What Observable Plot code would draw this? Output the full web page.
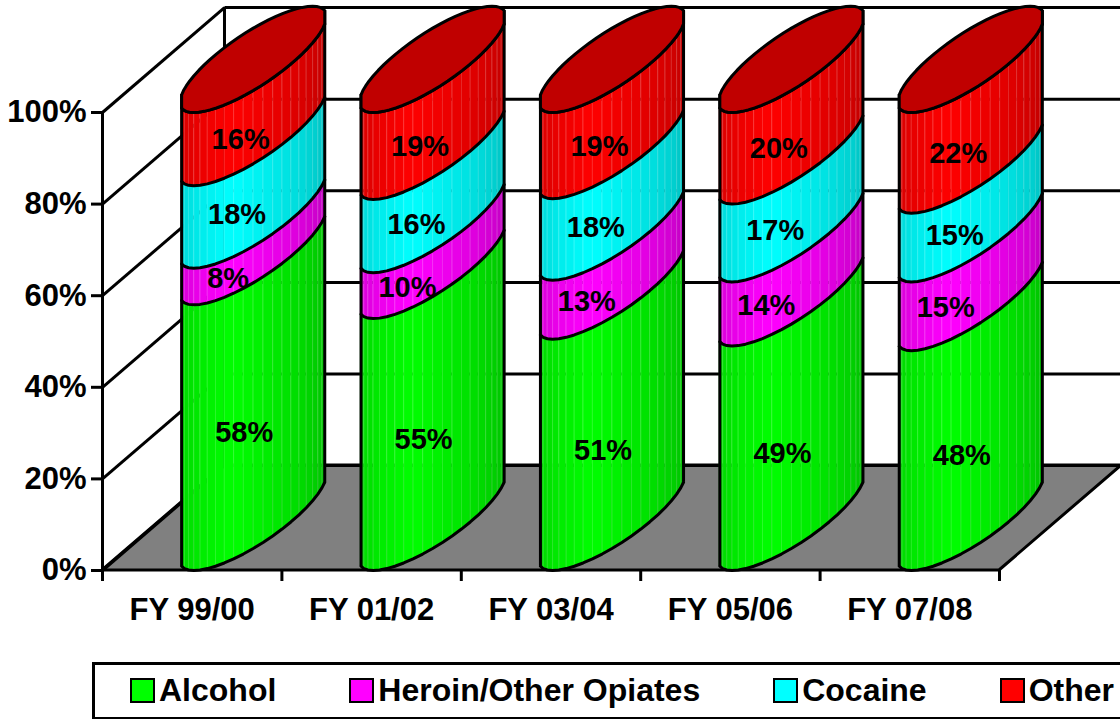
<!DOCTYPE html>
<html>
<head>
<meta charset="utf-8">
<script src="https://cdn.jsdelivr.net/npm/d3@7"></script>
<script src="https://cdn.jsdelivr.net/npm/@observablehq/plot@0.6"></script>
<style>
html,body{margin:0;padding:0;background:#fff;overflow:hidden;width:1120px;height:719px}
svg{display:block}
#legend{position:absolute;left:92px;top:662px;width:1100px;height:52px;border:3px solid #000;display:flex;align-items:center;gap:73px;padding-left:35px;box-sizing:content-box;font:bold 32px "Liberation Sans",Arial,sans-serif;color:#000;white-space:nowrap}
#legend .item{display:flex;align-items:center;gap:4px;position:relative;top:-1px}
#legend .sw{display:inline-block;width:21px;height:21px;border:2px solid #000}
</style>
</head>
<body>
<div id="chart"></div>
<div id="legend"></div>
<script>
const years = ["FY 99/00", "FY 01/02", "FY 03/04", "FY 05/06", "FY 07/08"];
const alcohol = [58, 55, 51, 49, 48];
const heroin = [8, 10, 13, 14, 15];
const cocaine = [18, 16, 18, 17, 15];
const other = [16, 19, 19, 20, 22];
const seriesNames = ["Alcohol", "Heroin/Other Opiates", "Cocaine", "Other"];
const seriesColors = ["#00ff00", "#ff00ff", "#00ffff", "#ff0000"];
const seriesValues = [alcohol, heroin, cocaine, other];
const percentTicks = [0, 20, 40, 60, 80, 100];

// oblique-projection box, in scale units
const depthX = 0.68, depthY = 22.9;
const halfW = 0.234, halfDx = 0.323, halfDy = 11.6;
const STRIPS = 20;
const stretch = 1.025, corner = Math.acos(1 / stretch);
const tLeft = Math.atan2(-halfDx, -halfW);
const extent = Math.hypot(halfW, halfDx);
const px = (c, t) => c + Math.max(-extent, Math.min(extent, stretch * (halfW * Math.cos(t) + halfDx * Math.sin(t))));
const py = (v, t) => v + halfDy + halfDy * Math.sin(t);
const shade = p => p < 0.4 ? 0.84 + 0.16 * (p / 0.4) : 1 - 0.24 * ((p - 0.4) / 0.6);
// label placement relative to each segment, per series
const labelShiftX = [-0.05, -0.14, -0.09, -0.07];
const labelShiftY = [1, 1.8, 2.6, 2];

const strips = [], curves = [], seams = [], edges = [], tops = [], labels = [];
years.forEach((yr, i) => {
  const c = i + 0.5 + depthX / 2;
  const total = d3.sum(seriesValues, s => s[i]);
  let base = 0;
  const t0 = tLeft + corner, t1 = tLeft + Math.PI - corner;
  const ts = d3.range(STRIPS + 1).map(k => t0 + (t1 - t0) * k / STRIPS);
  for (const k of ts) curves.push({x: px(c, k), y: py(0, k), z: `${i}-base`});
  seriesValues.forEach((s, j) => {
    const v0 = base, v1 = base + s[i] / total * 100;
    base = v1;
    for (let k = 0; k < STRIPS; k++) {
      const col = d3.rgb(seriesColors[j]);
      const f = shade((k + 0.5) / STRIPS);
      const fill = d3.rgb(col.r * f, col.g * f, col.b * f).formatHex();
      for (const t of [ts[k], ts[k + 1]])
        strips.push({x: px(c, t), y1: py(v0, t), y2: py(v1, t), z: `${i}-${j}-${k}`, fill});
      if (k > 0) seams.push({x: px(c, ts[k]), y1: py(v0, ts[k]), y2: py(v1, ts[k])});
    }
    for (const t of ts) curves.push({x: px(c, t), y: py(v1, t), z: `${i}-${j}`});
    labels.push({x: c + labelShiftX[j], y: (v0 + v1) / 2 + labelShiftY[j], text: s[i] + "%"});
  });
  edges.push({x: px(c, t0), y1: py(0, t0), y2: py(100, tLeft - corner)});
  edges.push({x: px(c, t1), y1: py(0, t1), y2: py(100, tLeft + Math.PI + corner)});
  d3.range(61).forEach(k => {
    const t = 2 * Math.PI * k / 60;
    tops.push({x: px(c, t), y: py(100, t), z: i});
  });
});

const sw = 3;
const chart = Plot.plot({
  width: 1120, height: 662,
  marginLeft: 102, marginRight: 121, marginTop: 112, marginBottom: 92,
  style: {fontFamily: '"Liberation Sans",Arial,sans-serif', background: "#fff", color: "#000"},
  x: {type: "linear", domain: [0, 5], axis: null},
  y: {domain: [0, 100], axis: null},
  color: {type: "identity"},
  marks: [
    Plot.areaX([{y: 0, x1: 0, x2: 5}, {y: depthY, x1: depthX, x2: 5 + depthX}],
      {y: "y", x1: "x1", x2: "x2", fill: "#808080", stroke: "#000", strokeWidth: sw}),
    Plot.link(percentTicks, {x1: () => 0, y1: d => d, x2: () => depthX, y2: d => d + depthY, stroke: "#000", strokeWidth: sw}),
    Plot.link(percentTicks, {x1: () => depthX, y1: d => d + depthY, x2: () => 5 + depthX, y2: d => d + depthY, stroke: "#000", strokeWidth: sw}),
    Plot.ruleX([depthX], {y1: depthY, y2: 100 + depthY, stroke: "#000", strokeWidth: sw}),
    Plot.ruleX([0], {y1: 0, y2: 100, stroke: "#000", strokeWidth: sw}),
    Plot.axisY({ticks: percentTicks, tickFormat: d => d + "%", tickSize: 11, tickPadding: 5, label: null, fontSize: 31, fontWeight: "bold", strokeWidth: sw}),
    Plot.axisX({ticks: [0, 1, 2, 3, 4, 5], tickFormat: () => "", tickSize: 11, label: null, strokeWidth: sw}),
    Plot.axisX({ticks: years.map((d, i) => i + 0.5), tickFormat: d => years[d - 0.5], tickSize: 0, tickPadding: 27, label: null, fontSize: 31, fontWeight: "bold"}),
    Plot.areaY(strips, {x: "x", y1: "y1", y2: "y2", z: "z", fill: "fill", stroke: "fill", strokeWidth: 0.4}),
    Plot.ruleX(seams, {x: "x", y1: "y1", y2: "y2", stroke: "#fff", strokeOpacity: 0.16, strokeWidth: 1}),
    Plot.ruleX(edges, {x: "x", y1: "y1", y2: "y2", stroke: "#000", strokeWidth: sw}),
    Plot.line(curves, {x: "x", y: "y", z: "z", stroke: "#000", strokeWidth: sw, curve: "linear"}),
    Plot.line(tops, {x: "x", y: "y", z: "z", fill: "#c00000", stroke: "#000", strokeWidth: sw, curve: "linear"}),
    Plot.text(labels, {x: "x", y: "y", text: "text", fontSize: 29, fontWeight: "bold", fill: "#000"})
  ]
});
document.getElementById("chart").append(chart);

const legend = document.getElementById("legend");
seriesNames.forEach((name, j) => {
  const item = document.createElement("span");
  item.className = "item";
  const swatch = document.createElement("span");
  swatch.className = "sw";
  swatch.style.background = seriesColors[j];
  item.append(swatch, name);
  legend.append(item);
});
</script>
</body>
</html>
